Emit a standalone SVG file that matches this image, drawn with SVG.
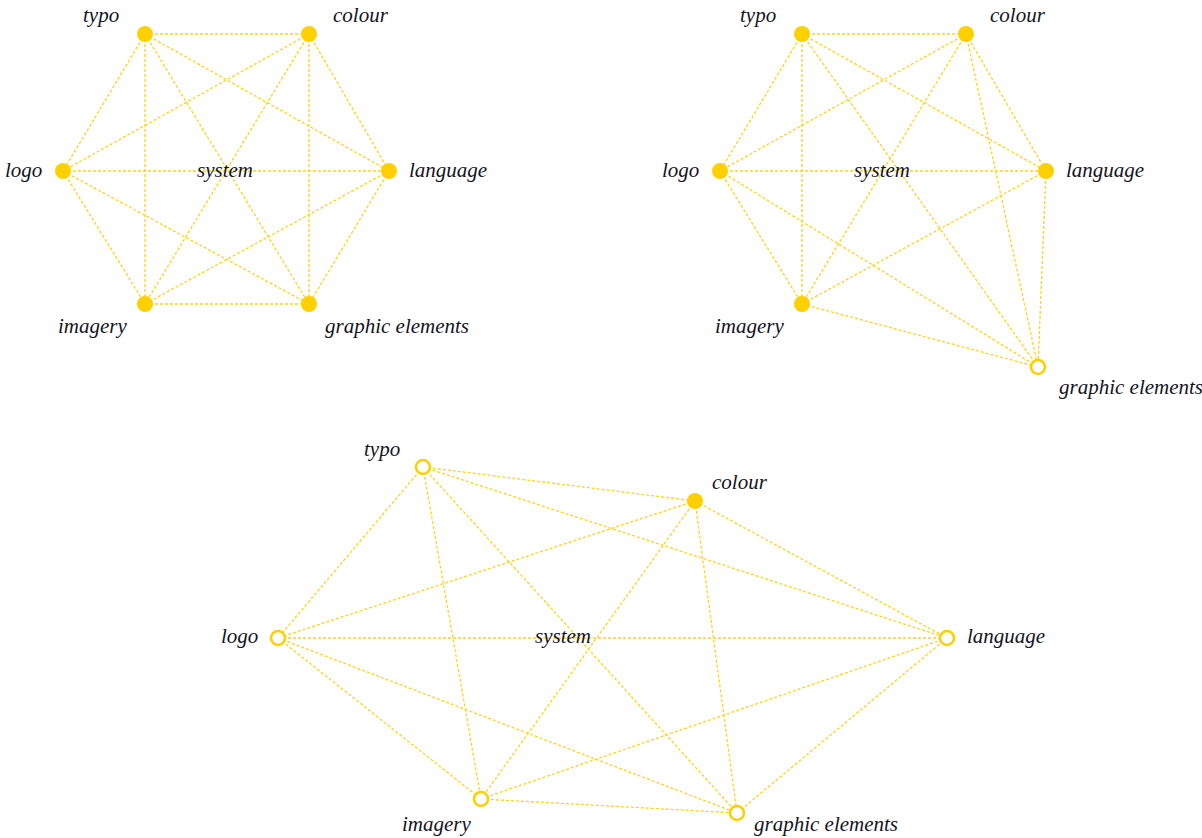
<svg xmlns="http://www.w3.org/2000/svg" width="1202" height="838" viewBox="0 0 1202 838">
<style>
.e{stroke:#FFD21A;stroke-width:1.3;stroke-dasharray:3 2;fill:none}
.f{fill:#FFD000}
.h{fill:#fff;stroke:#FFD000;stroke-width:2.6}
text{font-family:"Liberation Serif",serif;font-style:italic;font-size:21px;fill:#14141e}
</style>
<rect width="1202" height="838" fill="#fff"/>
<g id="connectors">
<g id="edges-a">
<line class="e" x1="145" y1="34" x2="309" y2="34"/>
<line class="e" x1="145" y1="34" x2="63" y2="171"/>
<line class="e" x1="145" y1="34" x2="389" y2="171"/>
<line class="e" x1="145" y1="34" x2="145" y2="304"/>
<line class="e" x1="145" y1="34" x2="309" y2="304"/>
<line class="e" x1="309" y1="34" x2="63" y2="171"/>
<line class="e" x1="309" y1="34" x2="389" y2="171"/>
<line class="e" x1="309" y1="34" x2="145" y2="304"/>
<line class="e" x1="309" y1="34" x2="309" y2="304"/>
<line class="e" x1="63" y1="171" x2="389" y2="171"/>
<line class="e" x1="63" y1="171" x2="145" y2="304"/>
<line class="e" x1="63" y1="171" x2="309" y2="304"/>
<line class="e" x1="389" y1="171" x2="145" y2="304"/>
<line class="e" x1="389" y1="171" x2="309" y2="304"/>
<line class="e" x1="145" y1="304" x2="309" y2="304"/>
</g>
<g id="edges-b">
<line class="e" x1="802" y1="34" x2="966" y2="34"/>
<line class="e" x1="802" y1="34" x2="720" y2="171"/>
<line class="e" x1="802" y1="34" x2="1046" y2="171"/>
<line class="e" x1="802" y1="34" x2="802" y2="304"/>
<line class="e" x1="802" y1="34" x2="1038" y2="367"/>
<line class="e" x1="966" y1="34" x2="720" y2="171"/>
<line class="e" x1="966" y1="34" x2="1046" y2="171"/>
<line class="e" x1="966" y1="34" x2="802" y2="304"/>
<line class="e" x1="966" y1="34" x2="1038" y2="367"/>
<line class="e" x1="720" y1="171" x2="1046" y2="171"/>
<line class="e" x1="720" y1="171" x2="802" y2="304"/>
<line class="e" x1="720" y1="171" x2="1038" y2="367"/>
<line class="e" x1="1046" y1="171" x2="802" y2="304"/>
<line class="e" x1="1046" y1="171" x2="1038" y2="367"/>
<line class="e" x1="802" y1="304" x2="1038" y2="367"/>
</g>
<g id="edges-c">
<line class="e" x1="423" y1="467" x2="695" y2="501"/>
<line class="e" x1="423" y1="467" x2="278" y2="638"/>
<line class="e" x1="423" y1="467" x2="947" y2="638"/>
<line class="e" x1="423" y1="467" x2="481" y2="799"/>
<line class="e" x1="423" y1="467" x2="737" y2="813"/>
<line class="e" x1="695" y1="501" x2="278" y2="638"/>
<line class="e" x1="695" y1="501" x2="947" y2="638"/>
<line class="e" x1="695" y1="501" x2="481" y2="799"/>
<line class="e" x1="695" y1="501" x2="737" y2="813"/>
<line class="e" x1="278" y1="638" x2="947" y2="638"/>
<line class="e" x1="278" y1="638" x2="481" y2="799"/>
<line class="e" x1="278" y1="638" x2="737" y2="813"/>
<line class="e" x1="947" y1="638" x2="481" y2="799"/>
<line class="e" x1="947" y1="638" x2="737" y2="813"/>
<line class="e" x1="481" y1="799" x2="737" y2="813"/>
</g>
</g>
<g id="a-typo"><circle class="f" cx="145" cy="34" r="8"/><text x="83" y="22">typo</text></g>
<g id="a-colour"><circle class="f" cx="309" cy="34" r="8"/><text x="333" y="22">colour</text></g>
<g id="a-logo"><circle class="f" cx="63" cy="171" r="8"/><text x="5" y="177">logo</text></g>
<g id="a-system"><text x="197" y="177">system</text></g>
<g id="a-language"><circle class="f" cx="389" cy="171" r="8"/><text x="409" y="177">language</text></g>
<g id="a-imagery"><circle class="f" cx="145" cy="304" r="8"/><text x="58" y="333">imagery</text></g>
<g id="a-graphic"><circle class="f" cx="309" cy="304" r="8"/><text x="325" y="333">graphic elements</text></g>

<g id="b-typo"><circle class="f" cx="802" cy="34" r="8"/><text x="740" y="22">typo</text></g>
<g id="b-colour"><circle class="f" cx="966" cy="34" r="8"/><text x="990" y="22">colour</text></g>
<g id="b-logo"><circle class="f" cx="720" cy="171" r="8"/><text x="662" y="177">logo</text></g>
<g id="b-system"><text x="854" y="177">system</text></g>
<g id="b-language"><circle class="f" cx="1046" cy="171" r="8"/><text x="1066" y="177">language</text></g>
<g id="b-imagery"><circle class="f" cx="802" cy="304" r="8"/><text x="715" y="333">imagery</text></g>
<g id="b-graphic"><circle class="h" cx="1038" cy="367" r="7"/><text x="1059" y="394">graphic elements</text></g>

<g id="c-typo"><circle class="h" cx="423" cy="467" r="7"/><text x="364" y="456">typo</text></g>
<g id="c-colour"><circle class="f" cx="695" cy="501" r="8"/><text x="712" y="489">colour</text></g>
<g id="c-logo"><circle class="h" cx="278" cy="638" r="7"/><text x="221" y="643">logo</text></g>
<g id="c-system"><text x="535" y="643">system</text></g>
<g id="c-language"><circle class="h" cx="947" cy="638" r="7"/><text x="967" y="643">language</text></g>
<g id="c-imagery"><circle class="h" cx="481" cy="799" r="7"/><text x="402" y="831">imagery</text></g>
<g id="c-graphic"><circle class="h" cx="737" cy="813" r="7"/><text x="754" y="831">graphic elements</text></g>
</svg>
